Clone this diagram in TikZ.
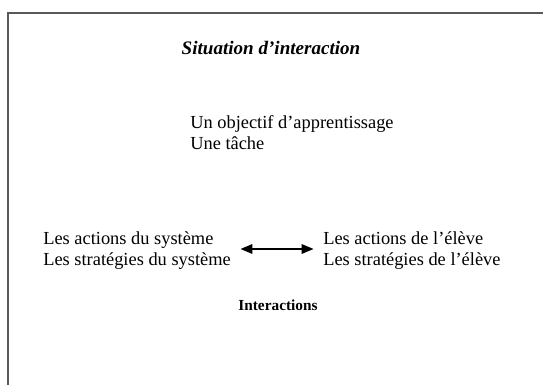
\documentclass[tikz,border=0pt]{standalone}
\usepackage{fontspec}
\setmainfont{Liberation Serif}
\usetikzlibrary{arrows.meta}

\tikzset{
	texte/.style={inner sep=0pt, align=left, font=\fontsize{13.8}{15.75}\selectfont},
	titre/.style={inner sep=0pt, font=\fontsize{14.3}{16}\selectfont\bfseries\itshape},
	legende/.style={inner sep=0pt, font=\fontsize{11.5}{13}\selectfont\bfseries},
	cadre/.style={draw=black!65, line width=1.1pt}
}

\begin{document}
\begin{tikzpicture}[x=0.75pt, y=-0.75pt]

	\useasboundingbox (0, 0) rectangle (543, 385);
	\draw[cadre] (8, 385) -- (8, 13) -- (543, 13);

	\node[titre] (situation) at (271, 48) {Situation d’interaction};
	\node[texte, anchor=west] (objectif) at (190, 133) {Un objectif d’apprentissage\\Une tâche};

	\node[texte, anchor=west] (systeme) at (43, 251) {Les actions du système\\Les stratégies du système};
	\node[texte, anchor=west] (eleve) at (323, 251) {Les actions de l’élève\\Les stratégies de l’élève};
	\node[legende] (interactions) at (278, 305) {Interactions};

	\draw[{Triangle[length=9pt, width=7pt]}-{Triangle[length=9pt, width=7pt]}, line width=1.6pt, shorten <=7pt, shorten >=7pt] ([yshift=1.5pt]systeme.east) -- ([yshift=1.5pt]eleve.west);
\end{tikzpicture}
\end{document}
